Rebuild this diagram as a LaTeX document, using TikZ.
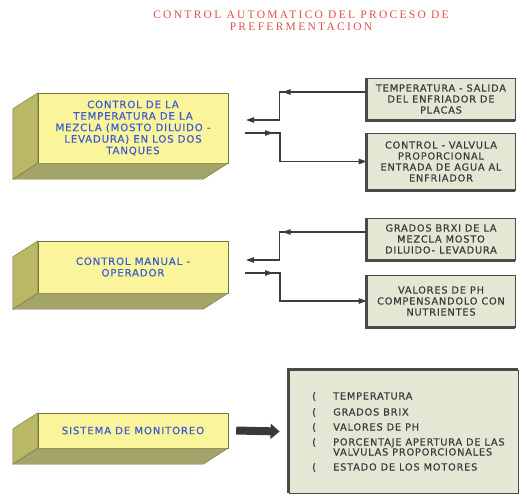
\documentclass[tikz,border=0pt]{standalone}
\usepackage{fontspec}
\setmainfont{Liberation Serif}
\newfontfamily\boxfont[LetterSpace=8,FakeBold=0.3]{DejaVu Sans}
\newfontfamily\titlefont[LetterSpace=20]{Liberation Serif}
\usetikzlibrary{calc,arrows.meta}
\definecolor{ylw}{HTML}{FAF59A}
\definecolor{sidecol}{HTML}{B9B864}
\definecolor{botcol}{HTML}{A3A36A}
\definecolor{olivedk}{HTML}{76763E}
\definecolor{txtblue}{HTML}{3C5AD2}
\definecolor{beige}{HTML}{E6E6D4}
\definecolor{frame}{HTML}{4A4A4A}
\definecolor{gtext}{HTML}{3A3A3A}
\definecolor{lne}{HTML}{3C3C3C}
\definecolor{titlered}{HTML}{E0504A}
\begin{document}
\begin{tikzpicture}[x=1pt,y=-1pt,
  ybox/.style={draw=olivedk,fill=ylw,text=txtblue,align=center,inner sep=0pt,
    minimum width=190pt,font=\boxfont\fontsize{10.2}{11.5}\selectfont},
  gbox/.style={draw=frame,fill=beige,text=gtext,align=center,inner sep=0pt,
    line width=0.8pt,minimum width=148pt,font=\boxfont\fontsize{9.8}{11}\selectfont},
  item/.style={text=gtext,anchor=base west,inner sep=0pt,font=\boxfont\fontsize{9.8}{10}\selectfont},
  conn/.style={draw=lne,line width=1.2pt},
  arr/.style={-{Triangle[length=8pt,width=5.5pt]}}]
\useasboundingbox (0,0) rectangle (527,495);
% title
\node[text=titlered,align=center,font=\titlefont\fontsize{11.5}{12}\selectfont] (title) at (301,21)
  {CONTROL AUTOMATICO DEL PROCESO DE\\PREFERMENTACION};
% yellow blocks
\node[ybox,minimum height=70pt] (temp) at (133,128)
  {CONTROL DE LA\\TEMPERATURA DE LA\\MEZCLA (MOSTO DILUIDO -\\LEVADURA) EN LOS DOS\\TANQUES};
\node[ybox,minimum height=52pt] (manual) at (133,267) {CONTROL MANUAL -\\OPERADOR};
\node[ybox,minimum height=35pt] (monit) at (133,430.5) {SISTEMA DE MONITOREO};
\foreach \n in {temp,manual,monit} {
  \filldraw[fill=sidecol,draw=olivedk] (\n.north west) -- ++(-25,16) -- ($(\n.south west)+(-25,16)$) -- (\n.south west) -- cycle;
  \filldraw[fill=botcol,draw=olivedk] (\n.south west) -- ++(-25,16) -- ($(\n.south east)+(-25,16)$) -- (\n.south east) -- cycle;
}
% grey boxes
\node[gbox,minimum height=42pt] (tA) at (441,99) {TEMPERATURA - SALIDA\\DEL ENFRIADOR DE\\PLACAS};
\node[gbox,minimum height=57pt] (tB) at (441,161.5) {CONTROL - VALVULA\\PROPORCIONAL\\ENTRADA DE AGUA AL\\ENFRIADOR};
\node[gbox,minimum height=42pt] (tC) at (441,239) {GRADOS BRXI DE LA\\MEZCLA MOSTO\\DILUIDO- LEVADURA};
\node[gbox,minimum height=52pt] (tD) at (441,301) {VALORES DE PH\\COMPENSANDOLO CON\\NUTRIENTES};
\foreach \n in {tA,tB,tC,tD}
  \draw[frame,line width=2.5pt] (\n.north west) -- (\n.south west) -- (\n.south east);
\node[gbox,minimum width=229pt,minimum height=123pt] (list) at (403.5,431.5) {};
\draw[frame,line width=3pt] (list.south west) -- (list.north west) -- (list.north east);
\foreach \y/\t in {396/TEMPERATURA,412/GRADOS BRIX,427/VALORES DE PH,442/PORCENTAJE APERTURA DE LAS,467/ESTADO DE LOS MOTORES} {
  \node[item] at (312,\y+3.5) {(};
  \node[item] at (333,\y+3.5) {\t};
}
\node[item] at (333,455.5) {VALVULAS PROPORCIONALES};
% connectors
\coordinate (in1) at (246,120);
\coordinate (out1) at (245,133);
\coordinate (in2) at (246,260);
\coordinate (out2) at (245,273);
\draw[conn,arr] ([yshift=7pt]tA.west) -- ++(-84,0);
\draw[conn,arr] ([yshift=7pt]tA.west) -- ++(-87,0) |- (in1);
\draw[conn,arr] (out1) -- ++(28,0);
\draw[conn,arr] (out1) -- ++(35,0) |- (tB.west);
\draw[conn,arr] ([yshift=7pt]tC.west) -- ++(-84,0);
\draw[conn,arr] ([yshift=7pt]tC.west) -- ++(-87,0) |- (in2);
\draw[conn,arr] (out2) -- ++(28,0);
\draw[conn,arr] (out2) -- ++(35,0) |- (tD.west);
\draw[draw=gray!45!black,line width=8pt,-{Triangle[length=9pt,width=15pt]}] ([xshift=8pt]monit.east) -- ([xshift=-9pt]list.west);
\end{tikzpicture}
\end{document}
